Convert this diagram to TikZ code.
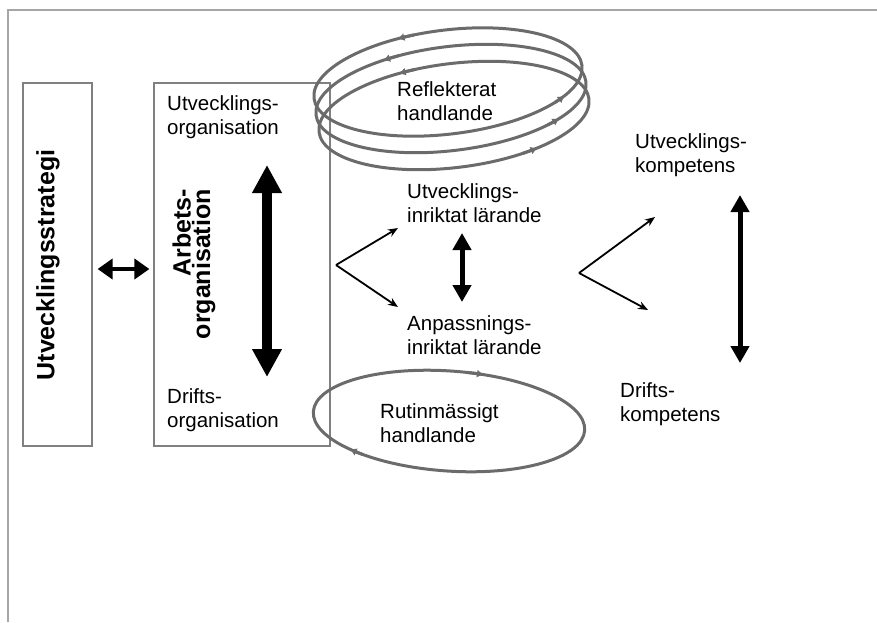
\documentclass[tikz,border=0pt]{standalone}
\usepackage{fontspec}
\setmainfont{Liberation Sans}
\usetikzlibrary{arrows.meta,calc}
\tikzset{
	lbl/.style={inner sep=0pt, anchor=west, align=left, font=\fontsize{20.5}{24}\selectfont},
	boldlbl/.style={inner sep=0pt, rotate=90, font=\bfseries\fontsize{25}{18}\selectfont},
	box/.style={draw=black!50, line width=1.2pt},
	loopline/.style={color=black!58, line width=3pt},
	looptip/.tip={Triangle[width=7pt,length=6pt]},
	fatarrow/.style={line width=10pt, {Triangle[width=28pt,length=28pt]}-{Triangle[width=28pt,length=28pt]}},
	midarrow/.style={line width=5pt, {Triangle[width=18pt,length=17pt]}-{Triangle[width=18pt,length=17pt]}},
	sidearrow/.style={line width=4pt, {Triangle[width=20pt,length=15pt]}-{Triangle[width=20pt,length=15pt]}},
	thinarrow/.style={line width=1.8pt, -{Stealth[width=8pt,length=10pt]}},
}
% [step](centre)(rotation:a:b)(mark:mark)
\def\loopring[#1](#2)(#3:#4:#5)(#6:#7){\begin{scope}[transform canvas={rotate around={#3:(#2)}}]
	\draw[loopline] (#2) ellipse [x radius=#4, y radius=#5];
	\foreach \t in {#6,#7}
		\draw[loopline, -{looptip}] ($(#2)+(\t:#4 and #5)$) arc [start angle=\t, delta angle=#1, x radius=#4, y radius=#5];
	\end{scope}}

\begin{document}
\begin{tikzpicture}[x=1pt,y=-1pt]
			%%%%% START %%%%%
			\useasboundingbox (0,0) rectangle (877,622);
			\draw[draw=black!35, line width=2pt] (8,622) -- (8,10) -- (877,10);
			
			% boxes
			\node[box, minimum width=69pt, minimum height=363pt] (stratbox) at (57.5,264.5) {};
			\node[box, minimum width=176pt, minimum height=363pt] (orgbox) at (242,264.5) {};
			\node[boldlbl] (strat) at (48,265) {Utvecklingsstrategi};
			\node[boldlbl, align=right, anchor=east] (arbets) at (194,189) {Arbets-\\organisation};
			\node[lbl] (uorg) at (167,117) {Utvecklings-\\organisation};
			\node[lbl] (dorg) at (167,410) {Drifts-\\organisation};
			
			\draw[sidearrow] ([xshift=5pt,yshift=-4.5pt]stratbox.east) -- ([xshift=-4pt,yshift=-4.5pt]orgbox.west);
			\coordinate (orgtop) at (267,165);
			\coordinate (orgbot) at (267,377);
			\draw[fatarrow] (orgtop) -- (orgbot);
			
			% loops
			\loopring[-7](448,82)(7:135:52)(258:40)
			\loopring[-7](451,98.5)(7:136:52)(250:47)
			\loopring[-7](454,115.5)(7:136:52)(256:62)
			\loopring[7](449,421)(-4:136:50)(276:128)
			\node[lbl] (refl) at (397,101) {Reflekterat\\handlande};
			\node[lbl] (rutin) at (380,423) {Rutinmässigt\\handlande};
			
			% learning
			\node[lbl] (uinr) at (407,203) {Utvecklings-\\inriktat lärande};
			\node[lbl] (ainr) at (407,335) {Anpassnings-\\inriktat lärande};
			\coordinate (vl) at (336,265);
			\coordinate (vlup) at (398,228);
			\coordinate (vldn) at (398,307);
			\draw[thinarrow] (vl) -- (vlup);
			\draw[thinarrow] (vl) -- (vldn);
			\coordinate (lrntop) at (462,233);
			\coordinate (lrnbot) at (462,302);
			\draw[midarrow] (lrntop) -- (lrnbot);
			
			% competence
			\node[lbl] (ukomp) at (635,155) {Utvecklings-\\kompetens};
			\node[lbl] (dkomp) at (620,404) {Drifts-\\kompetens};
			\coordinate (vr) at (579,273);
			\coordinate (vrup) at (655,217);
			\coordinate (vrdn) at (648,310);
			\draw[thinarrow] (vr) -- (vrup);
			\draw[thinarrow] (vr) -- (vrdn);
			\coordinate (kmptop) at (740,195);
			\coordinate (kmpbot) at (740,363);
			\draw[midarrow] (kmptop) -- (kmpbot);
			%%%%% END %%%%%
\end{tikzpicture}
\end{document}
